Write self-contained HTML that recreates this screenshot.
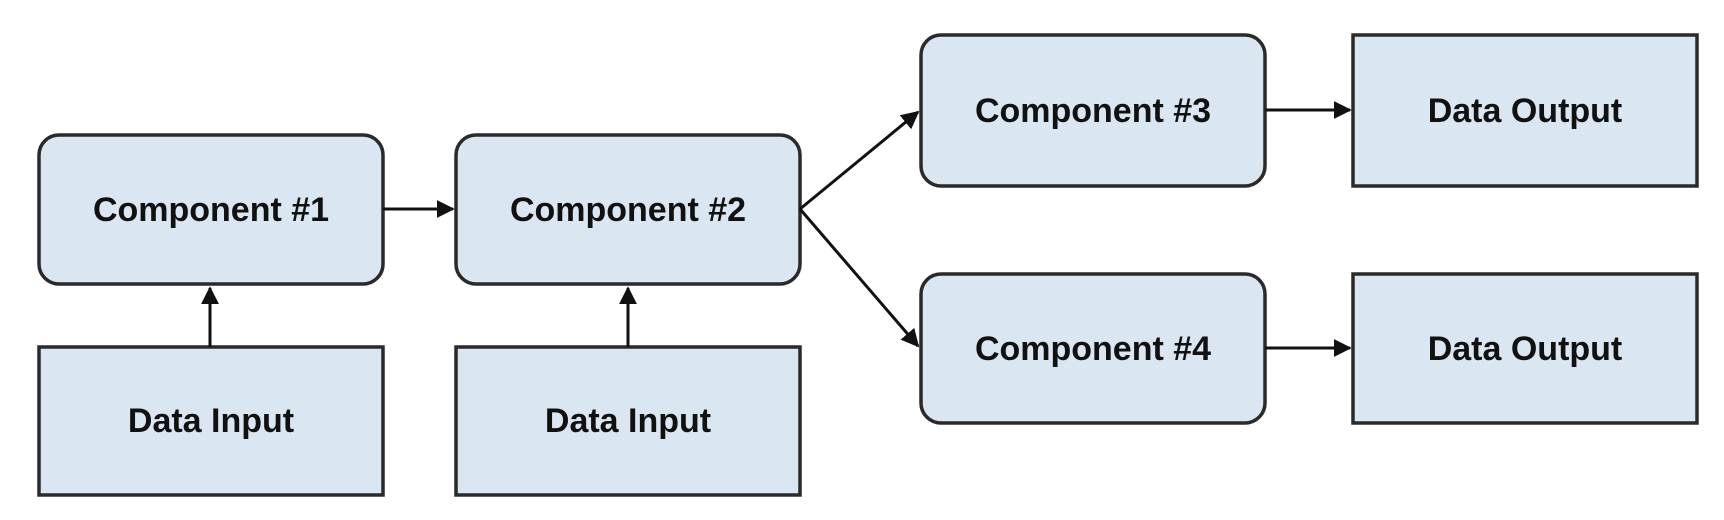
<!DOCTYPE html>
<html><head><style>
html,body{margin:0;padding:0;background:#fff;}
svg{display:block;}
text{font-family:"Liberation Sans",Arial,sans-serif;font-weight:bold;font-size:34px;fill:#111;text-anchor:middle;dominant-baseline:central;}
</style></head><body>
<svg width="1724" height="520" viewBox="0 0 1724 520">
<defs>
<marker id="ah" viewBox="0 0 10 10" refX="9" refY="5" markerWidth="6" markerHeight="6" orient="auto"><path d="M0,0 L10,5 L0,10 z" fill="#111"/></marker>
</defs>
<g fill="#dae6f1" stroke="#2a2a2a" stroke-width="3.5">
<rect x="39" y="135" width="344" height="149" rx="20"/>
<rect x="456" y="135" width="344" height="149" rx="20"/>
<rect x="921" y="35" width="344" height="151" rx="20"/>
<rect x="921" y="274" width="344" height="149" rx="20"/>
<rect x="39" y="347" width="344" height="148"/>
<rect x="456" y="347" width="344" height="148"/>
<rect x="1353" y="35" width="344" height="151"/>
<rect x="1353" y="274" width="344" height="149"/>
</g>
<g stroke="#111" stroke-width="3" marker-end="url(#ah)">
<line x1="383" y1="209" x2="453" y2="209"/>
<line x1="210" y1="347" x2="210" y2="288"/>
<line x1="628" y1="347" x2="628" y2="288"/>
<line x1="800" y1="209" x2="918" y2="112"/>
<line x1="800" y1="209" x2="918" y2="346"/>
<line x1="1265" y1="110" x2="1350" y2="110"/>
<line x1="1265" y1="348" x2="1350" y2="348"/>
</g>
<text x="211" y="210">Component #1</text>
<text x="628" y="210">Component #2</text>
<text x="1093" y="111">Component #3</text>
<text x="1093" y="349">Component #4</text>
<text x="211" y="421">Data Input</text>
<text x="628" y="421">Data Input</text>
<text x="1525" y="111">Data Output</text>
<text x="1525" y="349">Data Output</text>
</svg>
</body></html>
